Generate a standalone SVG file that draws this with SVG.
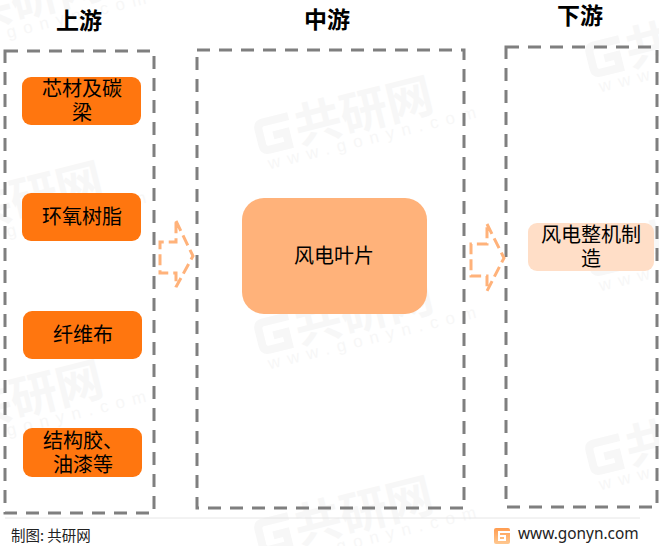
<svg xmlns="http://www.w3.org/2000/svg" width="659" height="546" viewBox="0 0 659 546">
<style>
.t{font-family:"Noto Sans CJK SC","Liberation Sans",sans-serif;fill:#000;text-anchor:middle}
.h{font-size:23px;font-weight:700}
.n{font-size:20px}
.box{fill:none;stroke:#7f7f7f;stroke-width:3;stroke-dasharray:13 9}
.ar{fill:none;stroke:#ffb27a;stroke-width:3;stroke-dasharray:11 5}
.wm{font-family:"Noto Sans CJK SC",sans-serif;font-weight:700;font-size:47px;fill:#f7f7f7}
.wu{font-family:"Liberation Sans",sans-serif;font-size:17px;letter-spacing:7.500px;fill:#f7f7f7}
.wg{fill:none;stroke:#f7f7f7;stroke-width:8}
</style>
<defs>
<linearGradient id="lg" x1="0" y1="0" x2="0" y2="1"><stop offset="0" stop-color="#ff9c50"/><stop offset="1" stop-color="#ffc890"/></linearGradient>
<path id="wglogo" class="wg" d="M36 -28H10Q4 -28 4 -22V-6Q4 0 10 0H30V-13H17"/>
</defs>
<rect width="659" height="546" fill="#fff"/>
<g id="watermarks">
<g transform="translate(260 152) rotate(-14)"><use href="#wglogo"/><text class="wm" x="40" y="2">共研网</text><text class="wu" x="5" y="19">www.gonyn.com</text></g>
<g transform="translate(260 352) rotate(-14)"><use href="#wglogo"/><text class="wm" x="40" y="2">共研网</text><text class="wu" x="5" y="19">www.gonyn.com</text></g>
<g transform="translate(260 552) rotate(-14)"><use href="#wglogo"/><text class="wm" x="40" y="2">共研网</text><text class="wu" x="5" y="19">www.gonyn.com</text></g>
<g transform="translate(-70 38) rotate(-14)"><use href="#wglogo"/><text class="wm" x="40" y="2">共研网</text><text class="wu" x="5" y="19">www.gonyn.com</text></g>
<g transform="translate(-70 237) rotate(-14)"><use href="#wglogo"/><text class="wm" x="40" y="2">共研网</text><text class="wu" x="5" y="19">www.gonyn.com</text></g>
<g transform="translate(-70 436) rotate(-14)"><use href="#wglogo"/><text class="wm" x="40" y="2">共研网</text><text class="wu" x="5" y="19">www.gonyn.com</text></g>
<g transform="translate(591 75) rotate(-14)"><use href="#wglogo"/><text class="wm" x="40" y="2">共研网</text><text class="wu" x="5" y="19">www.gonyn.com</text></g>
<g transform="translate(591 274) rotate(-14)"><use href="#wglogo"/><text class="wm" x="40" y="2">共研网</text><text class="wu" x="5" y="19">www.gonyn.com</text></g>
<g transform="translate(591 473) rotate(-14)"><use href="#wglogo"/><text class="wm" x="40" y="2">共研网</text><text class="wu" x="5" y="19">www.gonyn.com</text></g>
</g>
<g id="upstream"><rect class="box" x="5" y="51" width="149" height="462"/><text class="t h" x="79" y="29">上游</text></g>
<g id="midstream"><rect class="box" x="197" y="50" width="267" height="458"/><text class="t h" x="327" y="28">中游</text></g>
<g id="downstream"><rect class="box" x="506" y="47" width="151" height="460"/><text class="t h" x="580" y="24">下游</text></g>
<g id="n1"><rect x="22" y="77" width="119" height="48" rx="9" fill="#ff760f"/><text class="t n" x="82" y="96">芯材及碳</text><text class="t n" x="82" y="120">梁</text></g>
<g id="n2"><rect x="22" y="193" width="119" height="48" rx="9" fill="#ff760f"/><text class="t n" x="82" y="224">环氧树脂</text></g>
<g id="n3"><rect x="23" y="311" width="119" height="48" rx="9" fill="#ff760f"/><text class="t n" x="83" y="342">纤维布</text></g>
<g id="n4"><rect x="23" y="428" width="119" height="49" rx="9" fill="#ff760f"/><text class="t n" x="83" y="448">结构胶、</text><text class="t n" x="83" y="472">油漆等</text></g>
<g id="n5"><rect x="242" y="198" width="185" height="116" rx="22" fill="#ffb27a"/><text class="t n" x="334" y="263">风电叶片</text></g>
<g id="n6"><rect x="528" y="223" width="126" height="48" rx="9" fill="#ffdec7"/><text class="t n" x="591" y="242">风电整机制</text><text class="t n" x="591" y="266">造</text></g>
<g id="connectors">
<path class="ar" d="M176 221L193 256L176 287V273H160V242H176Z"/>
<path class="ar" d="M487 224L504 258L487 291V276H471V244H487Z"/>
</g>
<g id="footer">
<line x1="5" y1="518" x2="640" y2="518" stroke="#e6e6e6"/>
<text x="11" y="541" font-family="'Noto Sans CJK SC',sans-serif" font-size="14.500" fill="#222">制图: 共研网</text>
<rect x="494" y="528" width="16" height="16" rx="2" fill="url(#lg)"/>
<path d="M510 532H499V540H505V536H500" fill="none" stroke="#fff" stroke-width="2"/>
<text x="518" y="539" font-family="'Noto Sans','Liberation Sans',sans-serif" font-size="15.400" fill="#222">www.gonyn.com</text>
</g>
</svg>
